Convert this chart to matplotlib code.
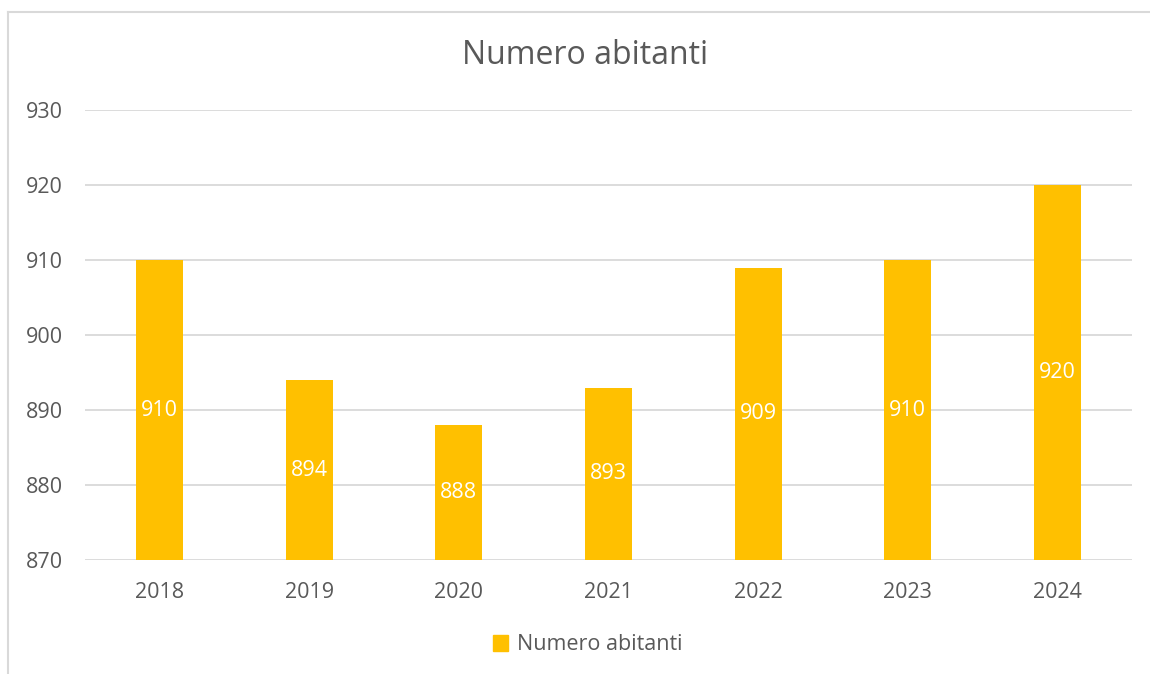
import matplotlib
matplotlib.use("Agg")
import matplotlib.pyplot as plt
from matplotlib.lines import Line2D
from matplotlib.patches import Patch

# dati
anni = ['2018', '2019', '2020', '2021', '2022', '2023', '2024']
abitanti = [910, 894, 888, 893, 909, 910, 920]
y_ticks = [870, 880, 890, 900, 910, 920, 930]

plt.rcParams['font.family'] = ['Open Sans', 'DejaVu Sans']
bar_color = '#FFC000'
txt_color = '#595959'
grid_color = '#d9d9d9'

fig = plt.figure(figsize=(11.5, 6.74), dpi=100)
ax = fig.add_axes([85 / 1150, 1 - 560 / 674, 1047 / 1150, 450 / 674])

x = range(len(anni))
bars = ax.bar(x, abitanti, width=0.315, color=bar_color, zorder=3)

# etichette dentro le barre (al centro)
for xi, v in zip(x, abitanti):
    ax.text(xi, (v + 870) / 2, str(v), ha='center', va='center',
            color='white', fontsize=15.5, zorder=4)

ax.set_ylim(870, 930)
ax.set_xlim(-0.5, len(anni) - 0.5)
ax.set_yticks(y_ticks)
ax.set_xticks(list(x))
ax.set_xticklabels(anni)
ax.tick_params(axis='both', length=0, labelsize=15.5, labelcolor=txt_color)
ax.tick_params(axis='y', pad=16)
ax.tick_params(axis='x', pad=16)
ax.grid(axis='y', color=grid_color, linewidth=1.3, zorder=0)
for s in ax.spines.values():
    s.set_visible(False)

fig.text(585 / 1150, 1 - 55 / 674, 'Numero abitanti', ha='center', va='center',
         fontsize=23, color=txt_color)

# legenda
fig.legend(handles=[Patch(color=bar_color, label='Numero abitanti')],
           loc='center', bbox_to_anchor=(588 / 1150, 1 - 645 / 674),
           frameon=False, fontsize=15.5, labelcolor=txt_color,
           handlelength=0.7, handleheight=0.7, handletextpad=0.4)

# bordo area grafico
fig.add_artist(Line2D([8 / 1150, 8 / 1150], [0, 1 - 12 / 674],
                      transform=fig.transFigure, color=grid_color, linewidth=1.5))
fig.add_artist(Line2D([8 / 1150, 1], [1 - 12 / 674, 1 - 12 / 674],
                      transform=fig.transFigure, color=grid_color, linewidth=1.5))

fig.savefig('out.png', dpi=100)
